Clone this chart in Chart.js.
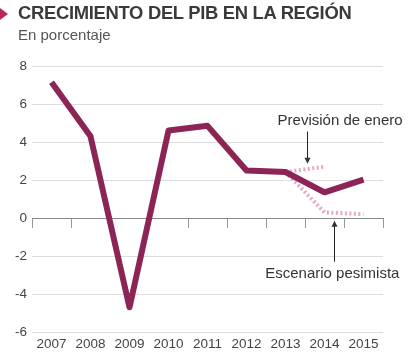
<!DOCTYPE html>
<html>
<head>
<meta charset="utf-8">
<script src="https://cdn.jsdelivr.net/npm/chart.js@4"></script>
<style>
  body { margin: 0; background: #fff; font-family: "Liberation Sans", Arial, sans-serif; }
  .wrap { position: relative; width: 414px; height: 363px; }
  .title { position: absolute; left: 18px; top: 2px; font-size: 18.4px; font-weight: bold; color: #3a3a3a; letter-spacing: -0.3px; white-space: nowrap; }
  .mark { position: absolute; left: 0; top: 8px; width: 0; height: 0; border-top: 6px solid transparent; border-bottom: 6px solid transparent; border-left: 8px solid #b8285e; }
  .sub { position: absolute; left: 18px; top: 26px; font-size: 15px; color: #555; }
  canvas { position: absolute; left: 0; top: 0; }
</style>
</head>
<body>
<div class="wrap">
  <canvas id="pib" width="414" height="363"></canvas>
  <div class="mark"></div>
  <div class="title">CRECIMIENTO DEL PIB EN LA REGIÓN</div>
  <div class="sub">En porcentaje</div>
</div>
<script>
const years = ['2007', '2008', '2009', '2010', '2011', '2012', '2013', '2014', '2015'];
const pib = [7.15, 4.3, -4.7, 4.6, 4.85, 2.5, 2.42, 1.35, 2.02];
const prevision = [null, null, null, null, null, null, 2.42, 2.7, null];
const pesimista = [null, null, null, null, null, null, 2.42, 0.3, 0.2];
const yTicks = [-6, -4, -2, 0, 2, 4, 6, 8];

// arrows and labels, anchored on category index / value
const notes = [
  { text: 'Previsión de enero', tx: 7.4, ty: 5.1, ax: 6.55, from: 4.55, to: 2.85 },
  { text: 'Escenario pesimista', tx: 7.2, ty: -2.95, ax: 7.25, from: -2.3, to: -0.15 }
];

const notesPlugin = {
  id: 'notes',
  afterDatasetsDraw(chart) {
    const { ctx, scales: { x, y } } = chart;
    ctx.save();
    ctx.font = '15px "Liberation Sans", Arial, sans-serif';
    ctx.fillStyle = '#333';
    ctx.strokeStyle = '#222';
    ctx.lineWidth = 1;
    ctx.textAlign = 'center';
    ctx.textBaseline = 'middle';
    notes.forEach(n => {
      const px = x.getPixelForValue(n.tx);
      const py = y.getPixelForValue(n.ty);
      ctx.fillText(n.text, px, py);
      const ax = Math.round(x.getPixelForValue(n.ax)) + 0.5;
      const y0 = y.getPixelForValue(n.from);
      const y1 = y.getPixelForValue(n.to);
      const dir = y1 > y0 ? 1 : -1;
      ctx.beginPath();
      ctx.moveTo(ax, y0);
      ctx.lineTo(ax, y1 - dir * 3);
      ctx.stroke();
      ctx.beginPath();
      ctx.moveTo(ax, y1);
      ctx.lineTo(ax - 3, y1 - dir * 6);
      ctx.lineTo(ax + 3, y1 - dir * 6);
      ctx.closePath();
      ctx.fill();
    });
    ctx.restore();
  }
};

new Chart(document.getElementById('pib'), {
  type: 'line',
  data: {
    labels: years,
    datasets: [
      {
        label: 'Escenario pesimista',
        data: pesimista,
        borderColor: '#e9a6c0',
        borderWidth: 4,
        borderDash: [2, 2.5],
        pointRadius: 0,
        xAxisID: 'x',
        order: 2
      },
      {
        label: 'Previsión de enero',
        data: prevision,
        borderColor: '#e9a6c0',
        borderWidth: 4,
        borderDash: [2, 2.5],
        pointRadius: 0,
        xAxisID: 'x',
        order: 2
      },
      {
        label: 'PIB',
        data: pib,
        borderColor: '#8c2556',
        borderWidth: 6,
        pointRadius: 0,
        borderJoinStyle: 'round',
        xAxisID: 'x',
        order: 1
      }
    ]
  },
  options: {
    responsive: false,
    animation: false,
    layout: { padding: { top: 66, right: 31, left: 0, bottom: 0 } },
    plugins: { legend: { display: false }, tooltip: { enabled: false } },
    scales: {
      x: {
        type: 'category',
        offset: true,
        grid: { display: false, drawTicks: false },
        border: { display: false },
        ticks: {
          color: '#444',
          padding: 4,
          maxRotation: 0,
          autoSkip: false,
          font: { family: '"Liberation Sans", Arial, sans-serif', size: 13.5 }
        },
        afterFit: s => { s.height = 31; }
      },
      x0: {
        type: 'category',
        labels: years,
        offset: true,
        position: { y: 0 },
        grid: { offset: true, drawOnChartArea: false, drawTicks: true, tickLength: 9, color: '#999' },
        border: { display: true, color: '#888', width: 1 },
        ticks: { display: false }
      },
      y: {
        min: -6,
        max: 8,
        afterBuildTicks: s => { s.ticks = yTicks.map(v => ({ value: v })); },
        grid: { color: '#ddd', drawTicks: false },
        border: { display: false },
        ticks: {
          color: '#444',
          padding: 5,
          font: { family: '"Liberation Sans", Arial, sans-serif', size: 13.5 }
        },
        afterFit: s => { s.width = 32; }
      }
    }
  },
  plugins: [notesPlugin]
});
</script>
</body>
</html>
